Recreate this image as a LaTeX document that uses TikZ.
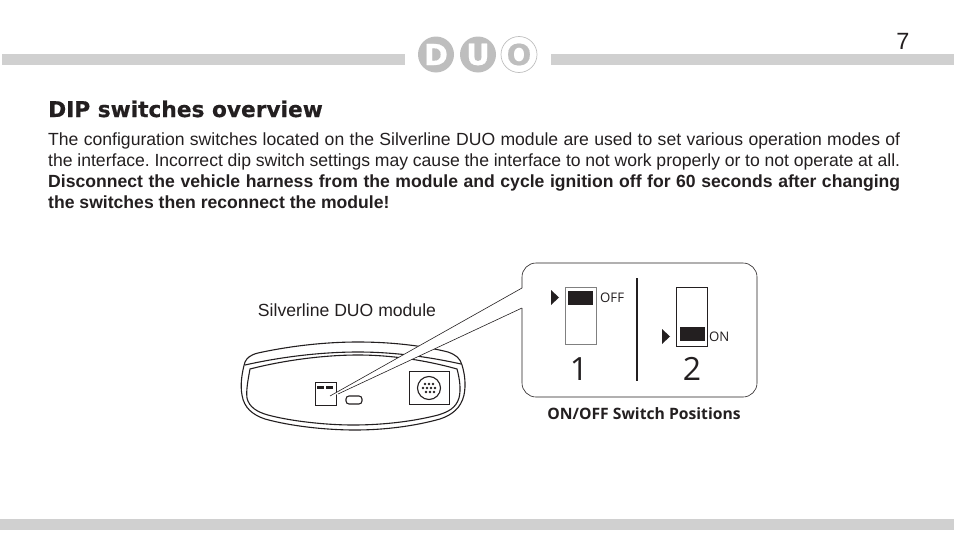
\documentclass[tikz,border=0pt]{standalone}
\usepackage{fontspec}
\setmainfont{Liberation Sans}
\newfontfamily\calloutfont{Open Sans}
\newfontfamily\titlefont[BoldFeatures={FakeBold=0.6}]{DejaVu Sans}
\usetikzlibrary{calc}
\definecolor{barcol}{RGB}{208,208,208}
\definecolor{logocol}{RGB}{190,190,190}
\definecolor{inkcol}{RGB}{35,31,32}
\tikzset{
    bar/.style={fill=barcol, draw=none},
    logoletter/.style={text=white, font=\titlefont\fontsize{29}{29}\selectfont\bfseries, inner sep=0pt},
    blackslider/.style={fill=inkcol, draw=none},
    devline/.style={draw=inkcol, line width=1.1pt},
    devbox/.style={draw=inkcol, line width=0.8pt},
    swlabel/.style={font=\calloutfont\fontsize{13.2}{14}\selectfont, text=inkcol, inner sep=0pt},
    swnumber/.style={font=\calloutfont\fontsize{32}{32}\selectfont, text=inkcol, inner sep=0pt},
    bodytext/.style={anchor=north west, inner sep=0pt, text=inkcol, text width=852pt, align=justify, font=\fontsize{17.6}{21}\selectfont},
}
\frenchspacing
\begin{document}
\begin{tikzpicture}[x=1pt, y=-1pt]
    \useasboundingbox (0,0) rectangle (954,557);
    % page bars
    \fill[bar] (2,54) rectangle (405,65);
    \fill[bar] (551,54) rectangle (954,65);
    \fill[bar] (0,519) rectangle (954,530);
    \node[text=inkcol, font=\fontsize{23.5}{24}\selectfont] (pagenum) at (903,41){7};
    % logo
    \fill[logocol] (436,54.5) circle (18);
    \fill[logocol] (478,54.5) circle (18);
    \draw[logocol, line width=0.7pt] (519,54.5) circle (18);
    \node[logoletter] (logoD) at (436,54.5){D};
    \node[logoletter] (logoU) at (478,54.5){U};
    \node[logoletter, text=logocol] (logoO) at (519,54.5){O};
    % text
    \node[anchor=base west, inner sep=0pt, text=inkcol, font=\titlefont\bfseries\fontsize{21.7}{22}\selectfont] (title) at (48,117){DIP switches overview};
    \node[bodytext] (para) at (48,133){The configuration switches located on the Silverline DUO module are used to set various operation modes of the interface. Incorrect dip switch settings may cause the interface to not work properly or to not operate at all.\par\textbf{Disconnect the vehicle harness from the module and cycle ignition off for 60 seconds after changing the switches then reconnect the module!}};
    \node[text=inkcol, font=\fontsize{17.6}{21}\selectfont] (modname) at (347,310){Silverline DUO module};
    % module
    \draw[devline] (245,362) .. controls (247,358) and (250,355) .. (258,353)
        .. controls (290,346) and (325,342) .. (358,342)
        .. controls (388,342) and (420,345) .. (448,352)
        .. controls (456,355) and (460,358) .. (462,365)
        .. controls (465,375) and (466,385) .. (464,395)
        .. controls (461,408) and (452,415) .. (440,419)
        .. controls (415,426) and (385,430) .. (355,430)
        .. controls (325,430) and (290,426) .. (265,419)
        .. controls (253,415) and (244,408) .. (242,395)
        .. controls (240,385) and (242,372) .. (245,362) -- cycle;
    \draw[devline] (245,365) .. controls (285,356) and (325,352) .. (358,352)
        .. controls (390,352) and (425,356) .. (461,364);
    \draw[devline] (250,369) .. controls (285,360) and (325,355) .. (358,355)
        .. controls (390,355) and (425,360) .. (457,369)
        .. controls (460,380) and (461,390) .. (459,398)
        .. controls (456,408) and (448,412) .. (438,415)
        .. controls (415,421) and (385,425) .. (353,425)
        .. controls (325,425) and (290,421) .. (268,415)
        .. controls (257,412) and (249,407) .. (247,398)
        .. controls (246,390) and (248,380) .. (250,369) -- cycle;
    \draw[devbox] (315,382) rectangle (336,405);
    \fill[blackslider] (317,386) rectangle (323.5,388.5);
    \fill[blackslider] (326,386) rectangle (332.5,388.5);
    \draw[devline, rounded corners=3pt] (346,396) rectangle (362,404);
    \draw[devbox] (409,371) rectangle (449,404);
    \draw[devline] (429,388) circle (11.5);
    \foreach \px/\py in {425/384,429/384,433/384,423/388,427/388,431/388,435/388,426/392,430/392,434/392}
        \fill[inkcol] (\px,\py) circle (1.4);
    % callout
    \coordinate (tipA) at (330,396);
    \coordinate (tipB) at (338,394);
    \coordinate (edgeA) at (522,288);
    \coordinate (edgeB) at (522,308);
    \fill[white] (tipA) -- (edgeA) -- (edgeB) -- (tipB) -- cycle;
    \draw[inkcol, line width=0.6pt] (tipA) -- (edgeA);
    \draw[inkcol, line width=0.6pt] (tipB) -- (edgeB);
    \draw[inkcol, line width=0.6pt, rounded corners=14pt] (522,288) -- (522,263) -- (757,263) -- (757,397) -- (522,397) -- (522,308);
    \draw[inkcol, line width=1.6pt] (637,278) -- (637,381);
    % switch 1
    \draw[gray, line width=0.7pt] (565,287) rectangle (596,344);
    \fill[blackslider] (568,291) rectangle (593,305);
    \fill[inkcol] (551,290) -- (559,297.5) -- (551,305) -- cycle;
    \node[swlabel, anchor=west] (offlabel) at (600,298){OFF};
    \node[swnumber] (numone) at (579,369){1};
    % switch 2
    \draw[inkcol, line width=0.7pt] (676,287) rectangle (707,346);
    \fill[blackslider] (680,327) rectangle (705,341);
    \fill[inkcol] (662,329) -- (670,336.5) -- (662,344) -- cycle;
    \node[swlabel, anchor=west] (onlabel) at (709,337){ON};
    \node[swnumber] (numtwo) at (692,369){2};
    \node[text=inkcol, font=\calloutfont\bfseries\fontsize{15.7}{16}\selectfont] (caption) at (644,414){ON/OFF Switch Positions};
\end{tikzpicture}
\end{document}
